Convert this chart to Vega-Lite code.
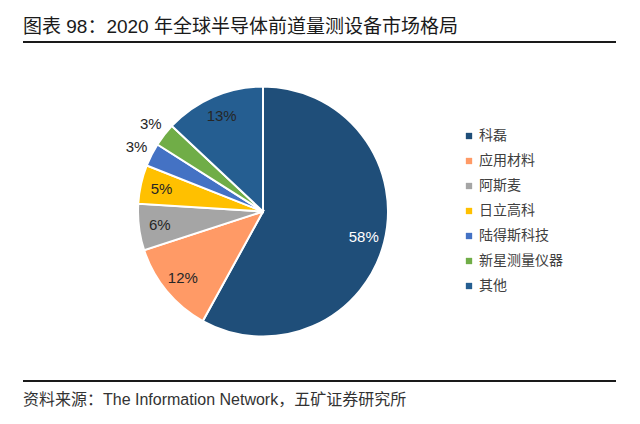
{
  "$schema": "https://vega.github.io/schema/vega-lite/v6.json",
  "padding": {"left": 23, "top": 18, "right": 0, "bottom": 0},
  "spacing": 7,
  "background": "white",
  "config": {
    "font": "Liberation Sans, Noto Sans CJK SC",
    "view": {"stroke": null}
  },
  "vconcat": [
    {
      "width": 593,
      "height": 2,
      "view": {"fill": "#1a1a1a", "stroke": null},
      "title": {
        "text": "图表 98：2020 年全球半导体前道量测设备市场格局",
        "anchor": "start",
        "fontSize": 19,
        "fontWeight": "normal",
        "color": "#1a1a1a",
        "offset": 4
      },
      "data": {"values": [{}]},
      "mark": {"type": "text", "text": "", "fontSize": 0},
      "encoding": {}
    },
    {
      "width": 480,
      "height": 323,
      "data": {
        "values": [
          {"name": "科磊", "value": 58, "label": "58%", "rank": 1},
          {"name": "应用材料", "value": 12, "label": "12%", "rank": 2},
          {"name": "阿斯麦", "value": 6, "label": "6%", "rank": 3},
          {"name": "日立高科", "value": 5, "label": "5%", "rank": 4},
          {"name": "陆得斯科技", "value": 3, "label": "3%", "rank": 5},
          {"name": "新星测量仪器", "value": 3, "label": "3%", "rank": 6},
          {"name": "其他", "value": 13, "label": "13%", "rank": 7}
        ]
      },
      "encoding": {
        "theta": {"field": "value", "type": "quantitative", "stack": true},
        "order": {"field": "rank", "type": "quantitative"}
      },
      "layer": [
        {
          "mark": {"type": "arc", "outerRadius": 125, "stroke": "white", "strokeWidth": 2},
          "encoding": {
            "color": {
              "field": "name",
              "type": "nominal",
              "scale": {
                "domain": ["科磊", "应用材料", "阿斯麦", "日立高科", "陆得斯科技", "新星测量仪器", "其他"],
                "range": ["#1F4E79", "#FF9A66", "#A5A5A5", "#FFC000", "#4472C4", "#70AD47", "#255E91"]
              },
              "legend": {
                "title": null,
                "orient": "none",
                "legendX": 439,
                "legendY": 88,
                "symbolType": "square",
                "symbolSize": 40,
                "symbolStrokeWidth": 0,
                "labelFontSize": 14,
                "labelColor": "#404040",
                "labelOffset": 3,
                "rowPadding": 11
              }
            }
          }
        },
        {
          "mark": {"type": "text", "radius": 104, "fontSize": 15},
          "encoding": {
            "text": {"condition": {"test": "datum.value >= 5", "field": "label"}, "value": ""},
            "color": {"condition": {"test": "datum.value > 50", "value": "white"}, "value": "#262626"}
          }
        },
        {
          "mark": {"type": "text", "radius": 142, "fontSize": 15, "color": "#262626"},
          "encoding": {
            "text": {"condition": {"test": "datum.value < 5", "field": "label"}, "value": ""}
          }
        }
      ]
    },
    {
      "width": 593,
      "height": 2,
      "view": {"fill": "#1a1a1a", "stroke": null},
      "title": {
        "text": "资料来源：The  Information Network，五矿证券研究所",
        "orient": "bottom",
        "anchor": "start",
        "fontSize": 16,
        "fontWeight": "normal",
        "color": "#333333",
        "offset": 10
      },
      "data": {"values": [{}]},
      "mark": {"type": "text", "text": "", "fontSize": 0},
      "encoding": {}
    }
  ]
}
